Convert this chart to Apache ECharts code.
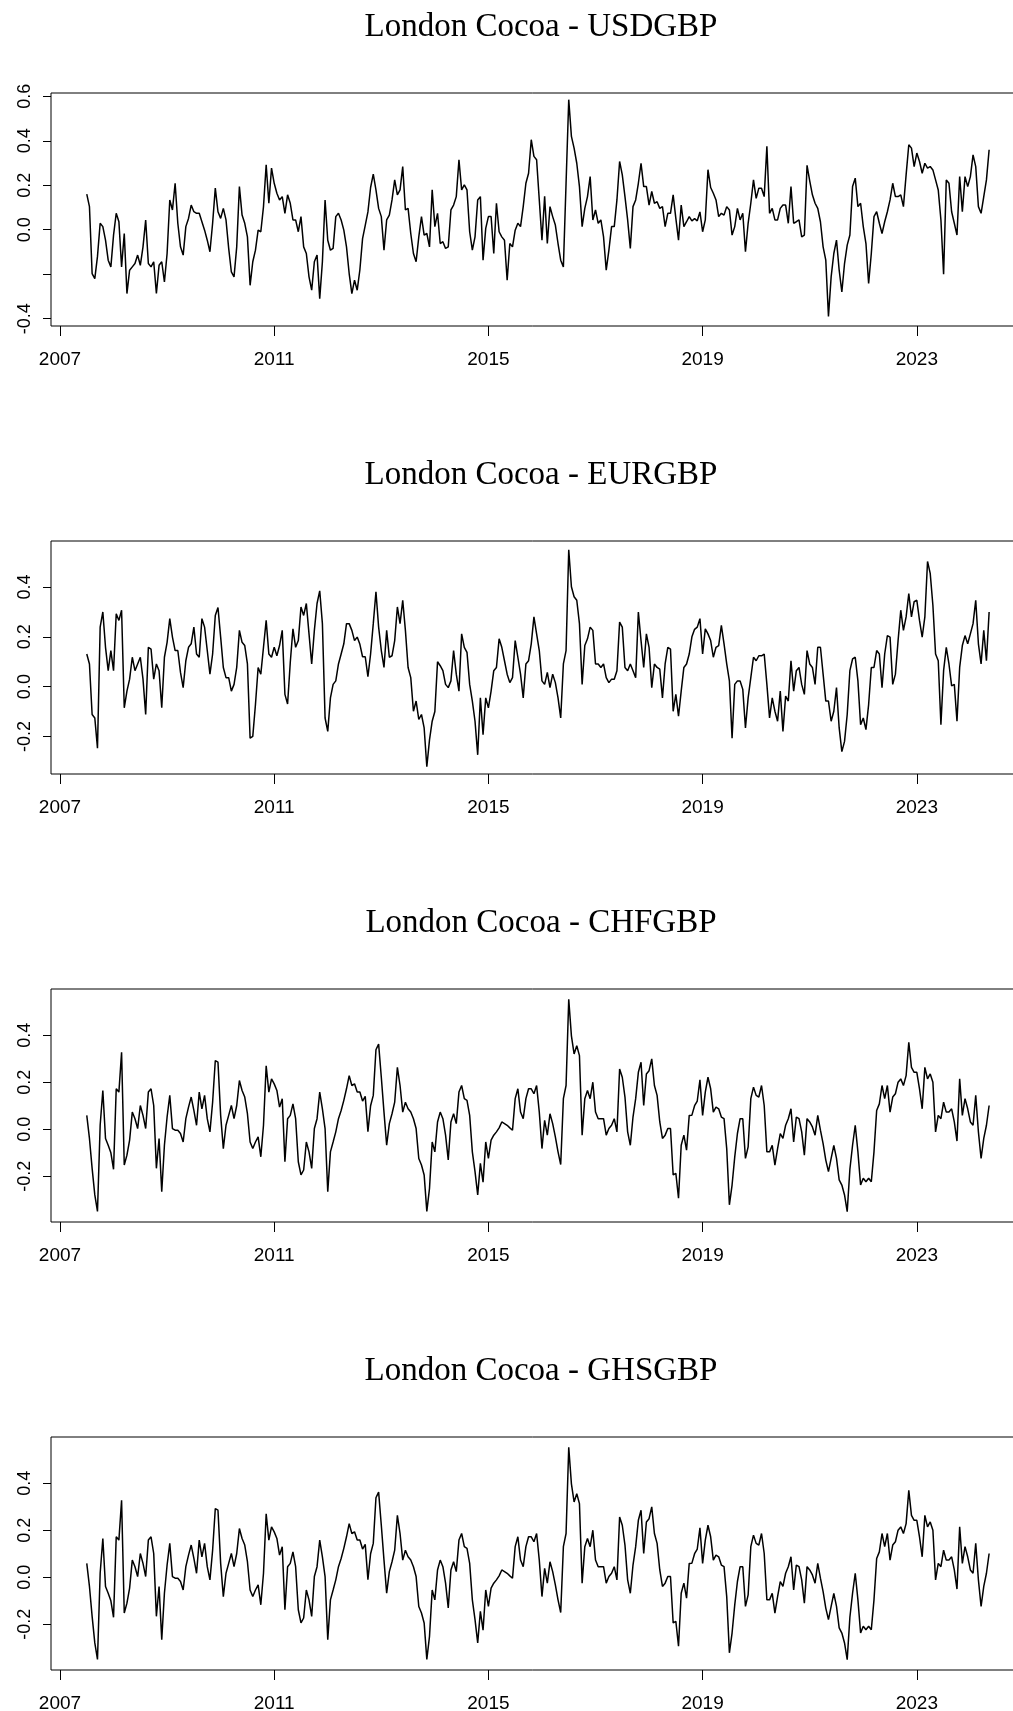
<!DOCTYPE html>
<html><head><meta charset="utf-8">
<script src="https://cdn.jsdelivr.net/npm/echarts@6/dist/echarts.min.js"></script>
<style>html,body{margin:0;padding:0;background:#fff}#c{width:1013px;height:1711px}</style>
</head><body><div id="c"></div>
<script>
// ---- data ----
const titles = ["London Cocoa - USDGBP", "London Cocoa - EURGBP", "London Cocoa - CHFGBP", "London Cocoa - GHSGBP"];
const xTickYears = [2007, 2011, 2015, 2019, 2023];
const startYear = 2007.5;   // first observation (decimal year)
const stepYear = 0.05;      // sampling step of the series (decimal year)

const usdgbp = [
0.16,0.104,-0.197,-0.22,-0.12,0.029,0.014,-0.047,-0.137,-0.167,
-0.024,0.074,0.036,-0.167,-0.017,-0.287,-0.182,-0.167,-0.152,-0.114,
-0.160,-0.077,0.044,-0.152,-0.167,-0.144,-0.287,-0.160,-0.144,-0.235,
-0.107,0.134,0.089,0.209,0.029,-0.077,-0.114,0.014,0.051,0.111,
0.081,0.074,0.074,0.036,-0.002,-0.047,-0.099,0.029,0.187,0.081,
0.051,0.096,0.044,-0.084,-0.190,-0.212,-0.077,0.194,0.066,0.029,
-0.032,-0.250,-0.144,-0.092,-0.002,-0.009,0.104,0.292,0.119,0.277,
0.209,0.164,0.134,0.149,0.074,0.157,0.119,0.044,0.044,-0.009,
0.059,-0.077,-0.107,-0.212,-0.272,-0.144,-0.114,-0.310,-0.144,0.134,
-0.047,-0.092,-0.084,0.059,0.074,0.044,-0.002,-0.077,-0.197,-0.287,
-0.227,-0.272,-0.18,-0.04,0.02,0.08,0.19,0.25,0.179,0.096,
0.059,-0.092,0.044,0.066,0.134,0.224,0.157,0.179,0.284,0.089,
0.096,-0.017,-0.107,-0.144,-0.032,0.059,-0.024,-0.017,-0.077,0.18,
0.014,0.074,-0.062,-0.054,-0.084,-0.077,0.089,0.111,0.149,0.315,
0.179,0.202,0.179,-0.009,-0.092,-0.032,0.134,0.149,-0.137,0.006,
0.059,0.059,-0.107,0.119,-0.009,-0.032,-0.047,-0.227,-0.062,-0.077,
-0.002,0.029,0.014,0.104,0.209,0.254,0.405,0.330,0.315,0.134,
-0.047,0.15,-0.062,0.104,0.059,0.021,-0.062,-0.137,-0.167,0.209,
0.585,0.42,0.367,0.299,0.194,0.014,0.096,0.149,0.239,0.044,
0.089,0.029,0.044,-0.032,-0.182,-0.092,0.014,0.014,0.134,0.307,
0.247,0.149,0.044,-0.084,0.104,0.134,0.209,0.299,0.194,0.194,
0.111,0.172,0.119,0.126,0.096,0.104,0.014,0.074,0.074,0.157,
0.051,-0.047,0.111,0.014,0.036,0.059,0.04,0.05,0.04,0.08,
-0.009,0.044,0.27,0.19,0.164,0.134,0.059,0.074,0.066,0.104,
0.089,-0.024,0.014,0.096,0.044,0.074,-0.099,0.029,0.119,0.224,
0.141,0.187,0.187,0.149,0.375,0.074,0.096,0.044,0.044,0.096,
0.111,0.111,0.029,0.194,0.029,0.036,0.044,-0.032,-0.024,0.29,
0.22,0.157,0.119,0.096,0.036,-0.077,-0.137,-0.39,-0.212,-0.107,
-0.047,-0.182,-0.280,-0.152,-0.069,-0.024,0.194,0.232,0.104,0.119,
0.014,-0.062,-0.242,-0.107,0.059,0.081,0.029,-0.017,0.036,0.081,
0.134,0.209,0.149,0.149,0.157,0.104,0.247,0.382,0.367,0.284,
0.345,0.307,0.254,0.299,0.277,0.284,0.269,0.224,0.179,0.044,
-0.20,0.224,0.209,0.081,0.029,-0.024,0.239,0.081,0.239,0.194,
0.239,0.337,0.284,0.104,0.074,0.149,0.224,0.36
];

const eurgbp = [
0.131,0.091,-0.112,-0.126,-0.247,0.239,0.300,0.158,0.064,0.145,
0.064,0.293,0.266,0.307,-0.085,-0.018,0.030,0.118,0.064,0.091,
0.118,0.030,-0.112,0.158,0.151,0.030,0.091,0.064,-0.085,0.118,
0.178,0.273,0.199,0.145,0.145,0.057,-0.004,0.104,0.158,0.172,
0.239,0.131,0.118,0.273,0.239,0.145,0.050,0.131,0.286,0.318,
0.199,0.077,0.036,0.036,-0.018,0.009,0.077,0.226,0.178,0.165,
0.091,-0.207,-0.20,-0.072,0.077,0.050,0.158,0.266,0.131,0.118,
0.158,0.124,0.165,0.226,-0.031,-0.07,0.097,0.232,0.158,0.185,
0.320,0.286,0.334,0.212,0.091,0.226,0.334,0.385,0.253,-0.126,
-0.180,-0.045,0.009,0.023,0.091,0.131,0.172,0.253,0.253,0.226,
0.185,0.199,0.17,0.12,0.12,0.04,0.131,0.253,0.381,0.239,
0.145,0.077,0.226,0.118,0.124,0.185,0.320,0.253,0.347,0.226,
0.077,0.036,-0.099,-0.058,-0.132,-0.112,-0.166,-0.322,-0.214,-0.139,
-0.10,0.10,0.084,0.064,0.009,-0.004,0.023,0.145,0.050,-0.018,
0.212,0.158,0.138,0.009,-0.058,-0.139,-0.274,-0.045,-0.193,-0.045,
-0.085,-0.018,0.064,0.077,0.192,0.158,0.104,0.050,0.016,0.036,
0.185,0.118,0.050,-0.045,0.091,0.104,0.172,0.280,0.212,0.145,
0.023,0.009,0.057,-0.004,0.050,0.016,-0.045,-0.126,0.091,0.145,
0.550,0.401,0.361,0.347,0.253,0.009,0.165,0.192,0.239,0.226,
0.091,0.091,0.077,0.091,0.036,0.016,0.030,0.030,0.064,0.259,
0.239,0.077,0.064,0.091,0.064,0.036,0.300,0.185,0.077,0.212,
0.158,-0.004,0.091,0.077,0.070,-0.045,0.091,0.158,0.151,-0.099,
-0.031,-0.119,-0.018,0.077,0.091,0.131,0.20,0.23,0.239,0.273,
0.131,0.232,0.212,0.185,0.118,0.158,0.165,0.246,0.172,0.091,
0.023,-0.207,0.009,0.023,0.023,-0.011,-0.166,-0.045,0.036,0.118,
0.104,0.124,0.124,0.131,0.009,-0.126,-0.045,-0.099,-0.139,-0.018,
-0.180,-0.038,-0.058,0.104,-0.018,0.064,0.077,0.009,-0.031,0.145,
0.091,0.077,0.009,0.158,0.158,0.050,-0.058,-0.058,-0.139,-0.099,
-0.004,-0.166,-0.261,-0.220,-0.112,0.064,0.111,0.118,0.023,-0.153,
-0.126,-0.173,-0.072,0.077,0.077,0.145,0.131,-0.004,0.131,0.205,
0.199,0.009,0.050,0.185,0.307,0.226,0.280,0.374,0.280,0.341,
0.347,0.266,0.199,0.280,0.503,0.455,0.327,0.131,0.104,-0.153,
0.064,0.158,0.091,0.003,0.009,-0.139,0.077,0.165,0.205,0.172,
0.212,0.253,0.347,0.172,0.091,0.226,0.104,0.300
];

const chfgbp = [
0.059,-0.039,-0.166,-0.279,-0.349,0.017,0.165,-0.039,-0.068,-0.10,
-0.17,0.172,0.158,0.327,-0.152,-0.110,-0.046,0.073,0.045,0.003,
0.101,0.059,0.003,0.158,0.172,0.101,-0.166,-0.039,-0.265,-0.068,
0.052,0.144,0.003,-0.004,-0.004,-0.018,-0.054,0.045,0.094,0.137,
0.080,0.017,0.158,0.087,0.144,0.045,-0.011,0.115,0.292,0.285,
0.059,-0.082,0.017,0.059,0.101,0.045,0.101,0.207,0.165,0.137,
0.066,-0.054,-0.082,-0.054,-0.032,-0.117,0.017,0.270,0.158,0.214,
0.193,0.165,0.094,0.130,-0.138,0.045,0.059,0.108,0.045,-0.138,
-0.194,-0.173,-0.054,-0.096,-0.166,0.003,0.045,0.158,0.087,0.003,
-0.265,-0.096,-0.054,-0.011,0.045,0.080,0.123,0.172,0.228,0.186,
0.193,0.158,0.158,0.12,0.14,-0.01,0.10,0.144,0.338,0.362,
0.221,0.073,-0.068,0.024,0.066,0.115,0.263,0.186,0.073,0.115,
0.087,0.073,0.045,0.003,-0.124,-0.152,-0.194,-0.349,-0.251,-0.054,
-0.096,0.031,0.073,0.045,-0.025,-0.13,0.031,0.066,0.024,0.158,
0.186,0.130,0.123,0.059,-0.096,-0.180,-0.279,-0.145,-0.225,-0.054,
-0.124,-0.046,-0.025,-0.011,0.006,0.031,0.024,0.017,0.006,-0.004,
0.130,0.172,0.073,0.045,0.130,0.172,0.172,0.151,0.186,0.073,
-0.082,0.038,-0.025,0.066,0.024,-0.032,-0.096,-0.15,0.130,0.186,
0.552,0.397,0.320,0.355,0.313,-0.025,0.130,0.165,0.130,0.200,
0.073,0.045,0.045,0.045,-0.025,0.003,0.017,0.045,-0.011,0.256,
0.221,0.137,-0.011,-0.068,0.052,0.130,0.242,0.285,0.101,0.235,
0.249,0.299,0.186,0.144,0.031,-0.039,-0.025,0.003,0.003,-0.194,
-0.187,-0.293,-0.068,-0.025,-0.089,0.059,0.06,0.10,0.12,0.21,
0.059,0.158,0.221,0.172,0.073,0.094,0.087,0.052,0.045,-0.082,
-0.321,-0.237,-0.117,-0.018,0.045,0.045,-0.124,-0.075,0.130,0.179,
0.144,0.137,0.186,0.101,-0.096,-0.096,-0.068,-0.152,-0.082,-0.018,
-0.039,0.017,0.045,0.087,-0.054,0.052,0.045,-0.011,-0.110,0.045,
0.031,0.010,-0.025,0.059,-0.004,-0.061,-0.131,-0.180,-0.124,-0.068,
-0.124,-0.215,-0.237,-0.279,-0.35,-0.17,-0.068,0.017,-0.096,-0.237,
-0.208,-0.223,-0.208,-0.223,-0.096,0.080,0.108,0.186,0.130,0.186,
0.073,0.137,0.151,0.200,0.214,0.186,0.228,0.369,0.263,0.242,
0.242,0.172,0.087,0.263,0.214,0.235,0.200,-0.011,0.059,0.045,
0.115,0.073,0.073,0.087,0.031,-0.05,0.214,0.059,0.130,0.087,
0.031,0.017,0.144,-0.011,-0.124,-0.039,0.017,0.101
];

const ghsgbp = [
0.059,-0.039,-0.166,-0.279,-0.349,0.017,0.165,-0.039,-0.068,-0.10,
-0.17,0.172,0.158,0.327,-0.152,-0.110,-0.046,0.073,0.045,0.003,
0.101,0.059,0.003,0.158,0.172,0.101,-0.166,-0.039,-0.265,-0.068,
0.052,0.144,0.003,-0.004,-0.004,-0.018,-0.054,0.045,0.094,0.137,
0.080,0.017,0.158,0.087,0.144,0.045,-0.011,0.115,0.292,0.285,
0.059,-0.082,0.017,0.059,0.101,0.045,0.101,0.207,0.165,0.137,
0.066,-0.054,-0.082,-0.054,-0.032,-0.117,0.017,0.270,0.158,0.214,
0.193,0.165,0.094,0.130,-0.138,0.045,0.059,0.108,0.045,-0.138,
-0.194,-0.173,-0.054,-0.096,-0.166,0.003,0.045,0.158,0.087,0.003,
-0.265,-0.096,-0.054,-0.011,0.045,0.080,0.123,0.172,0.228,0.186,
0.193,0.158,0.158,0.12,0.14,-0.01,0.10,0.144,0.338,0.362,
0.221,0.073,-0.068,0.024,0.066,0.115,0.263,0.186,0.073,0.115,
0.087,0.073,0.045,0.003,-0.124,-0.152,-0.194,-0.349,-0.251,-0.054,
-0.096,0.031,0.073,0.045,-0.025,-0.13,0.031,0.066,0.024,0.158,
0.186,0.130,0.123,0.059,-0.096,-0.180,-0.279,-0.145,-0.225,-0.054,
-0.124,-0.046,-0.025,-0.011,0.006,0.031,0.024,0.017,0.006,-0.004,
0.130,0.172,0.073,0.045,0.130,0.172,0.172,0.151,0.186,0.073,
-0.082,0.038,-0.025,0.066,0.024,-0.032,-0.096,-0.15,0.130,0.186,
0.552,0.397,0.320,0.355,0.313,-0.025,0.130,0.165,0.130,0.200,
0.073,0.045,0.045,0.045,-0.025,0.003,0.017,0.045,-0.011,0.256,
0.221,0.137,-0.011,-0.068,0.052,0.130,0.242,0.285,0.101,0.235,
0.249,0.299,0.186,0.144,0.031,-0.039,-0.025,0.003,0.003,-0.194,
-0.187,-0.293,-0.068,-0.025,-0.089,0.059,0.06,0.10,0.12,0.21,
0.059,0.158,0.221,0.172,0.073,0.094,0.087,0.052,0.045,-0.082,
-0.321,-0.237,-0.117,-0.018,0.045,0.045,-0.124,-0.075,0.130,0.179,
0.144,0.137,0.186,0.101,-0.096,-0.096,-0.068,-0.152,-0.082,-0.018,
-0.039,0.017,0.045,0.087,-0.054,0.052,0.045,-0.011,-0.110,0.045,
0.031,0.010,-0.025,0.059,-0.004,-0.061,-0.131,-0.180,-0.124,-0.068,
-0.124,-0.215,-0.237,-0.279,-0.35,-0.17,-0.068,0.017,-0.096,-0.237,
-0.208,-0.223,-0.208,-0.223,-0.096,0.080,0.108,0.186,0.130,0.186,
0.073,0.137,0.151,0.200,0.214,0.186,0.228,0.369,0.263,0.242,
0.242,0.172,0.087,0.263,0.214,0.235,0.200,-0.011,0.059,0.045,
0.115,0.073,0.073,0.087,0.031,-0.05,0.214,0.059,0.130,0.087,
0.031,0.017,0.144,-0.011,-0.124,-0.039,0.017,0.101
];

const yTickValues = [
  [-0.4, -0.2, 0, 0.2, 0.4, 0.6],
  [-0.2, 0, 0.2, 0.4],
  [-0.2, 0, 0.2, 0.4],
  [-0.2, 0, 0.2, 0.4]
];
const yLabelValues = [
  [-0.4, 0, 0.2, 0.4, 0.6],
  [-0.2, 0, 0.2, 0.4],
  [-0.2, 0, 0.2, 0.4],
  [-0.2, 0, 0.2, 0.4]
];
const yRanges = [[-0.433, 0.615], [-0.351, 0.585], [-0.394, 0.596], [-0.394, 0.596]];
const xRange = [2006.832, 2025.02];

// ---- layout ----
const seriesList = [usdgbp, eurgbp, chfgbp, ghsgbp];
const boxTops = [93, 541, 989, 1437];
const boxH = 233, boxLeft = 51, boxW = 974;
const titleSize = 33;

const chart = echarts.init(document.getElementById('c'), null, {renderer: 'canvas'});
const option = {
  animation: false,
  backgroundColor: '#ffffff',
  title: titles.map((t, i) => ({
    text: t, left: 536, top: boxTops[i] - 71 - titleSize / 2, textAlign: 'center',
    textStyle: {fontFamily: 'Liberation Serif', fontSize: titleSize, lineHeight: titleSize, fontWeight: 'normal', color: '#000'}
  })),
  grid: boxTops.map(t => ({
    left: boxLeft, top: t, width: boxW, height: boxH, show: true,
    borderColor: '#000', borderWidth: 1, backgroundColor: 'transparent',
    containLabel: false, outerBoundsMode: 'none'
  })),
  xAxis: boxTops.map((t, i) => ({
    type: 'value', gridIndex: i, min: xRange[0], max: xRange[1], position: 'bottom',
    axisLine: {show: false, onZero: false},
    splitLine: {show: false},
    axisTick: {show: true, length: 10, lineStyle: {color: '#000', width: 1}, customValues: xTickYears},
    axisLabel: {show: true, customValues: xTickYears, margin: 24, color: '#000',
      fontFamily: 'Liberation Sans', fontSize: 19, formatter: v => String(Math.round(v))}
  })),
  yAxis: boxTops.map((t, i) => ({
    type: 'value', gridIndex: i, min: yRanges[i][0], max: yRanges[i][1], position: 'left',
    axisLine: {show: false, onZero: false},
    splitLine: {show: false},
    axisTick: {show: true, length: 8, lineStyle: {color: '#000', width: 1}, customValues: yTickValues[i]},
    axisLabel: {show: true, customValues: yLabelValues[i], rotate: 90, margin: 17, color: '#000',
      fontFamily: 'Liberation Sans', fontSize: 18, formatter: v => v.toFixed(1)}
  })),
  series: seriesList.map((vals, i) => ({
    type: 'line', xAxisIndex: i, yAxisIndex: i, showSymbol: false, symbol: 'none',
    silent: true, clip: true,
    lineStyle: {color: '#000', width: 1.5}, itemStyle: {color: '#000'},
    data: vals.map((v, j) => [startYear + j * stepYear, v])
  }))
};
chart.setOption(option);
</script>
</body></html>
